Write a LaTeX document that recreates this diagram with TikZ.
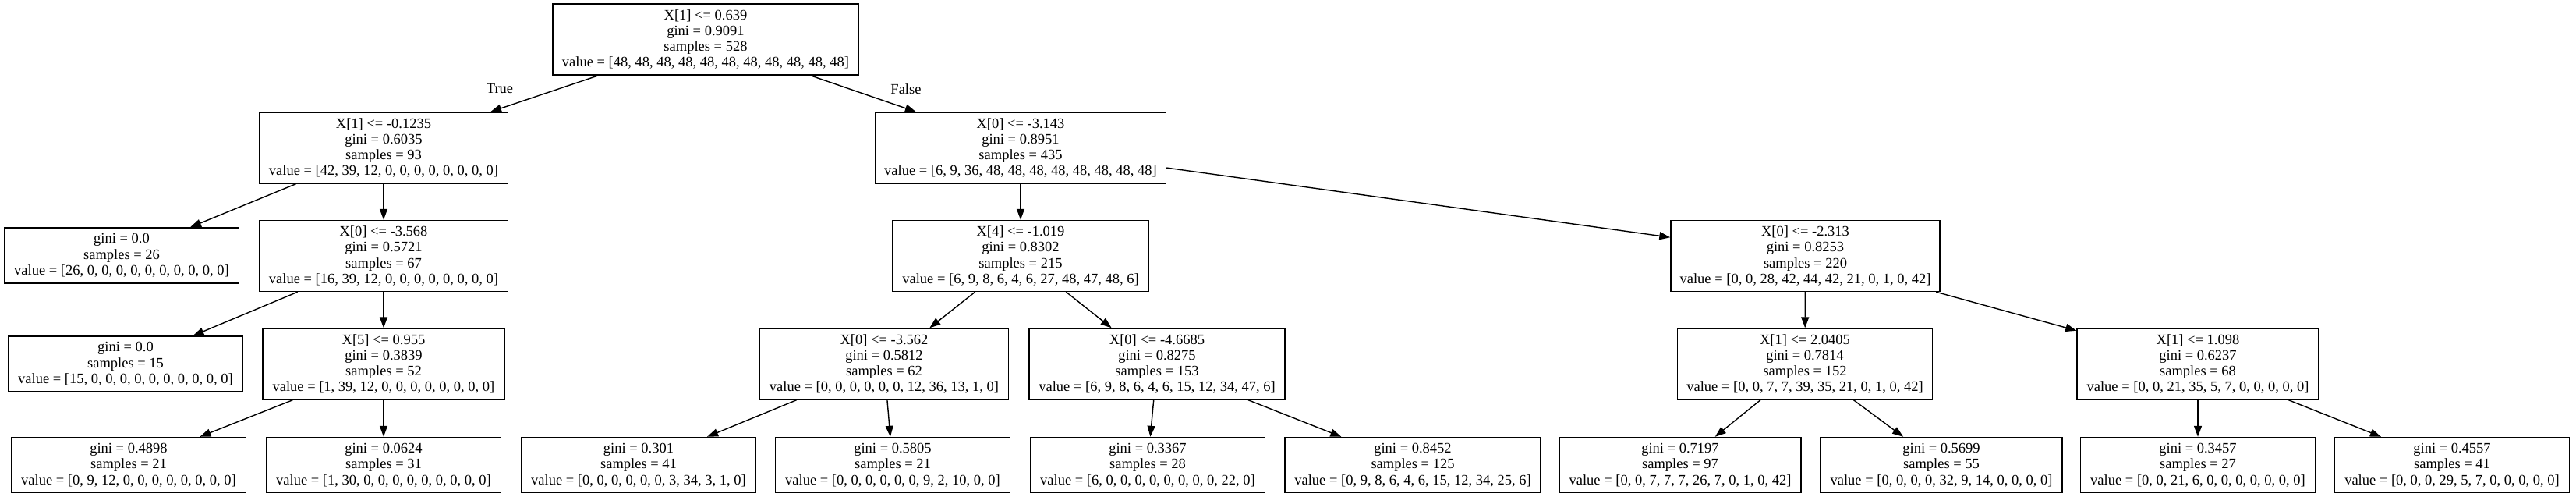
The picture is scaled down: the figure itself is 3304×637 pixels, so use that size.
\documentclass[tikz,border=0pt]{standalone}
\usepackage{fontspec}
\setmainfont{Liberation Serif}
\usetikzlibrary{arrows.meta}
\begin{document}
\begin{tikzpicture}[x=1pt,y=-1pt,
  tn/.style={draw=black, line width=1.4pt, align=center, inner sep=0pt,
    minimum height=91pt, font=\fontsize{18.5pt}{20.3pt}\selectfont},
  lf/.style={tn, minimum height=71pt},
  edge/.style={line width=1.4pt, -{Triangle[length=14pt,width=10pt]}},
  lbl/.style={font=\fontsize{18.5pt}{20.3pt}\selectfont, inner sep=0pt}]
\useasboundingbox (0,0) rectangle (3304,637);
% level 0
\node[tn, minimum width=392pt] (root) at (905,50.5) {X[1] <= 0.639\\gini = 0.9091\\samples = 528\\value = [48, 48, 48, 48, 48, 48, 48, 48, 48, 48, 48]};
% level 1
\node[tn, minimum width=319pt] (A) at (492,189.5) {X[1] <= -0.1235\\gini = 0.6035\\samples = 93\\value = [42, 39, 12, 0, 0, 0, 0, 0, 0, 0, 0]};
\node[tn, minimum width=373pt] (D) at (1309,189.5) {X[0] <= -3.143\\gini = 0.8951\\samples = 435\\value = [6, 9, 36, 48, 48, 48, 48, 48, 48, 48, 48]};
% level 2
\node[lf, minimum width=301pt] (a1) at (156,327.5) {gini = 0.0\\samples = 26\\value = [26, 0, 0, 0, 0, 0, 0, 0, 0, 0, 0]};
\node[tn, minimum width=319pt] (B) at (492,328) {X[0] <= -3.568\\gini = 0.5721\\samples = 67\\value = [16, 39, 12, 0, 0, 0, 0, 0, 0, 0, 0]};
\node[tn, minimum width=328pt] (E) at (1309,328) {X[4] <= -1.019\\gini = 0.8302\\samples = 215\\value = [6, 9, 8, 6, 4, 6, 27, 48, 47, 48, 6]};
\node[tn, minimum width=345pt] (F) at (2315.5,328) {X[0] <= -2.313\\gini = 0.8253\\samples = 220\\value = [0, 0, 28, 42, 44, 42, 21, 0, 1, 0, 42]};
% level 3
\node[lf, minimum width=301pt] (b1) at (161,466.5) {gini = 0.0\\samples = 15\\value = [15, 0, 0, 0, 0, 0, 0, 0, 0, 0, 0]};
\node[tn, minimum width=310pt] (C) at (492,466.5) {X[5] <= 0.955\\gini = 0.3839\\samples = 52\\value = [1, 39, 12, 0, 0, 0, 0, 0, 0, 0, 0]};
\node[tn, minimum width=319pt] (G) at (1134,466.5) {X[0] <= -3.562\\gini = 0.5812\\samples = 62\\value = [0, 0, 0, 0, 0, 0, 12, 36, 13, 1, 0]};
\node[tn, minimum width=328pt] (H) at (1484,466.5) {X[0] <= -4.6685\\gini = 0.8275\\samples = 153\\value = [6, 9, 8, 6, 4, 6, 15, 12, 34, 47, 6]};
\node[tn, minimum width=327pt] (I) at (2315,466.5) {X[1] <= 2.0405\\gini = 0.7814\\samples = 152\\value = [0, 0, 7, 7, 39, 35, 21, 0, 1, 0, 42]};
\node[tn, minimum width=310pt] (J) at (2819,466.5) {X[1] <= 1.098\\gini = 0.6237\\samples = 68\\value = [0, 0, 21, 35, 5, 7, 0, 0, 0, 0, 0]};
% level 4
\node[lf, minimum width=301pt] (L1) at (165,596) {gini = 0.4898\\samples = 21\\value = [0, 9, 12, 0, 0, 0, 0, 0, 0, 0, 0]};
\node[lf, minimum width=301pt] (L2) at (492,596) {gini = 0.0624\\samples = 31\\value = [1, 30, 0, 0, 0, 0, 0, 0, 0, 0, 0]};
\node[lf, minimum width=301pt] (L3) at (819,596) {gini = 0.301\\samples = 41\\value = [0, 0, 0, 0, 0, 0, 3, 34, 3, 1, 0]};
\node[lf, minimum width=301pt] (L4) at (1145,596) {gini = 0.5805\\samples = 21\\value = [0, 0, 0, 0, 0, 0, 9, 2, 10, 0, 0]};
\node[lf, minimum width=301pt] (L5) at (1472,596) {gini = 0.3367\\samples = 28\\value = [6, 0, 0, 0, 0, 0, 0, 0, 0, 22, 0]};
\node[lf, minimum width=328pt] (L6) at (1812,596) {gini = 0.8452\\samples = 125\\value = [0, 9, 8, 6, 4, 6, 15, 12, 34, 25, 6]};
\node[lf, minimum width=310pt] (L7) at (2155,596) {gini = 0.7197\\samples = 97\\value = [0, 0, 7, 7, 7, 26, 7, 0, 1, 0, 42]};
\node[lf, minimum width=310pt] (L8) at (2490,596) {gini = 0.5699\\samples = 55\\value = [0, 0, 0, 0, 32, 9, 14, 0, 0, 0, 0]};
\node[lf, minimum width=301pt] (L9) at (2819,596) {gini = 0.3457\\samples = 27\\value = [0, 0, 21, 6, 0, 0, 0, 0, 0, 0, 0]};
\node[lf, minimum width=301pt] (L10) at (3145,596) {gini = 0.4557\\samples = 41\\value = [0, 0, 0, 29, 5, 7, 0, 0, 0, 0, 0]};
% edge labels
\node[lbl] (tlabel) at (641,114) {True};
\node[lbl] (flabel) at (1162,114) {False};
% edges
\draw[edge] (root) -- (A);
\draw[edge] (root) -- (D);
\draw[edge] (A) -- (a1);
\draw[edge] (A) -- (B);
\draw[edge] (D) -- (E);
\draw[edge] (D) -- (F);
\draw[edge] (B) -- (b1);
\draw[edge] (B) -- (C);
\draw[edge] (E) -- (G);
\draw[edge] (E) -- (H);
\draw[edge] (F) -- (I);
\draw[edge] (F) -- (J);
\draw[edge] (C) -- (L1);
\draw[edge] (C) -- (L2);
\draw[edge] (G) -- (L3);
\draw[edge] (G) -- (L4);
\draw[edge] (H) -- (L5);
\draw[edge] (H) -- (L6);
\draw[edge] (I) -- (L7);
\draw[edge] (I) -- (L8);
\draw[edge] (J) -- (L9);
\draw[edge] (J) -- (L10);
\end{tikzpicture}
\end{document}
